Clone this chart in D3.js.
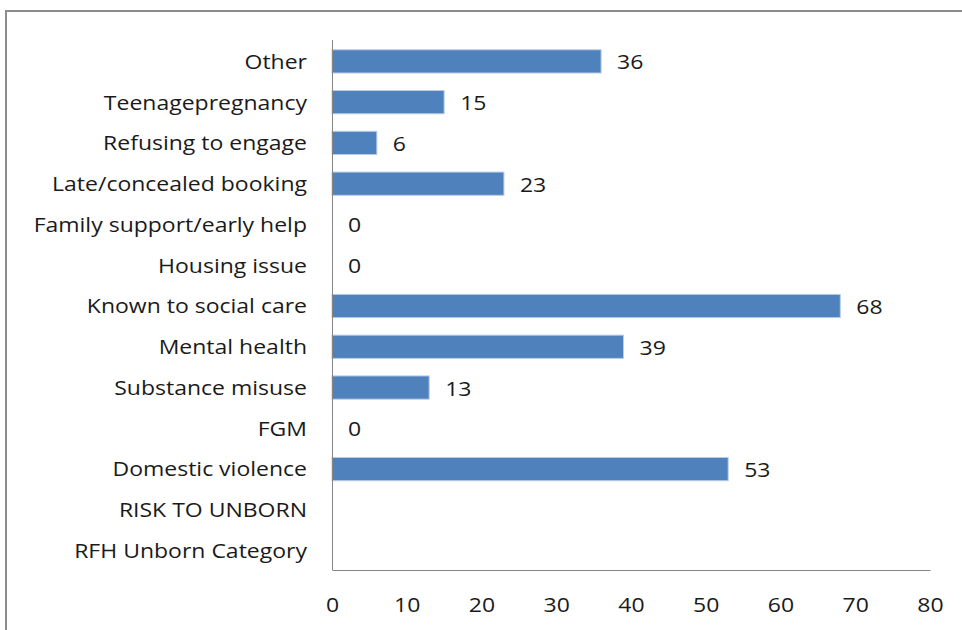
<!DOCTYPE html>
<html>
<head>
<meta charset="utf-8">
<script src="https://cdn.jsdelivr.net/npm/d3@7/dist/d3.min.js"></script>
<style>
  html, body { margin: 0; padding: 0; background: #ffffff; }
  svg { display: block; }
  text { font-family: "Open Sans", "Noto Sans", sans-serif; fill: #1a1a1a; }
</style>
</head>
<body>
<svg id="chart" width="962" height="630"></svg>
<script>
// Referral categories, listed top to bottom
const categories = [
  "Other",
  "Teenagepregnancy",
  "Refusing to engage",
  "Late/concealed booking",
  "Family support/early help",
  "Housing issue",
  "Known to social care",
  "Mental health",
  "Substance misuse",
  "FGM",
  "Domestic violence",
  "RISK TO UNBORN",
  "RFH Unborn Category"
];

// Count per category (null = no value shown)
const counts = [36, 15, 6, 23, 0, 0, 68, 39, 13, 0, 53, null, null];

// Value axis ticks
const xTicks = [0, 10, 20, 30, 40, 50, 60, 70, 80];

const svg = d3.select("#chart");
const margin = { left: 332, right: 32, top: 40, bottom: 60 };
const width = 962, height = 630;
const fontSize = 20;
const stretch = 1.15;   // wide lettering

const x = d3.scaleLinear()
  .domain([0, 80])
  .range([margin.left, width - margin.right]);

const y = d3.scaleBand()
  .domain(categories)
  .range([margin.top, height - margin.bottom])
  .paddingInner(0.43)
  .paddingOuter(0.215);

// Outer chart frame
svg.append("rect")
  .attr("x", 6).attr("y", 11)
  .attr("width", 990).attr("height", 660)
  .attr("fill", "none")
  .attr("stroke", "#8c8c8c")
  .attr("stroke-width", 2);

const data = categories.map((c, i) => ({ cat: c, val: counts[i] }));

// Bars
svg.append("g")
  .selectAll("rect")
  .data(data.filter(d => d.val !== null && d.val > 0))
  .join("rect")
  .attr("x", x(0))
  .attr("y", d => y(d.cat) + 1)
  .attr("width", d => x(d.val) - x(0))
  .attr("height", y.bandwidth())
  .attr("fill", "#4f81bd")
  .attr("stroke", "#b9cde5")
  .attr("stroke-width", 1);

// Value labels
svg.append("g")
  .selectAll("text")
  .data(data.filter(d => d.val !== null))
  .join("text")
  .attr("transform", d => `translate(${x(d.val) + 16},${y(d.cat) + y.bandwidth() / 2 + 2}) scale(${stretch},1)`)
  .attr("dy", "0.35em")
  .attr("font-size", fontSize)
  .text(d => d.val);

// Category axis
const yAxis = svg.append("g")
  .attr("transform", `translate(${x(0)},0)`)
  .call(d3.axisLeft(y).tickSize(0).tickPadding(25));
yAxis.select(".domain")
  .attr("d", `M0.5,${margin.top}V${height - margin.bottom}`)
  .attr("stroke", "#868686");
yAxis.selectAll(".tick text")
  .attr("x", 0)
  .attr("transform", `translate(-25,2) scale(${stretch},1)`)
  .attr("font-size", fontSize)
  .attr("font-family", "'Open Sans', 'Noto Sans', sans-serif")
  .attr("fill", "#1a1a1a");

// Value axis
const xAxis = svg.append("g")
  .attr("transform", `translate(0,${height - margin.bottom})`)
  .call(d3.axisBottom(x).tickValues(xTicks).tickSize(0).tickPadding(28));
xAxis.select(".domain")
  .attr("stroke", "#868686");
xAxis.selectAll(".tick text")
  .attr("transform", `scale(${stretch},1)`)
  .attr("font-size", fontSize)
  .attr("font-family", "'Open Sans', 'Noto Sans', sans-serif")
  .attr("fill", "#1a1a1a");
</script>
</body>
</html>
